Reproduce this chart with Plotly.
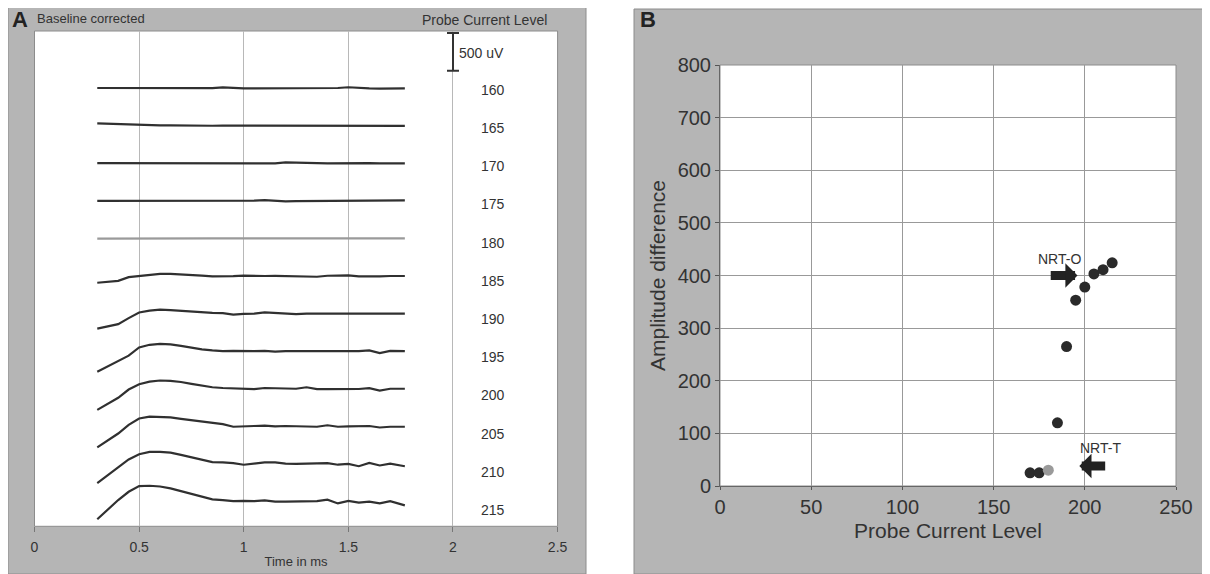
import plotly.graph_objects as go

W, H = 1210, 574
PAGE_OFFSET = 8  # browser body margin shifts the figure by 8 px


def xp(px):
    return (px - PAGE_OFFSET) / W


def yp(py):
    return 1 - (py - PAGE_OFFSET) / H


# ---------------- Panel A data ----------------
times = [0.30, 0.35, 0.40, 0.45, 0.50, 0.55, 0.60, 0.65, 0.70, 0.75,
         0.80, 0.85, 0.90, 0.95, 1.00, 1.05, 1.10, 1.15, 1.20, 1.25,
         1.30, 1.35, 1.40, 1.45, 1.50, 1.55, 1.60, 1.65, 1.70, 1.77]

levels_a = [160, 165, 170, 175, 180, 185, 190, 195, 200, 205, 210, 215]

amp_160 = [0, 0, 0, 0, 0, 0, 0, 0, 0, 3, 0, -3, 8, 0, -5, -5, -5, -5, -5, -8,
           -8, -5, -5, 0, 10, 0, -5, -8, -10, -5]
amp_165 = [30, 25, 15, 8, 2, 0, 2, 3, 0, 0, 0, -2, 0, 0, -5, -3, -3, -2, -2, 0,
           0, 3, 3, 0, -3, -3, -3, -3, -5, -5]
amp_170 = [0, 0, 0, 0, -2, -2, 0, 0, 0, 0, 0, 0, 0, -2, -2, 0, 0, -2, 12, 5,
           0, 0, -2, 0, 0, 8, 0, -3, -3, -3]
amp_175 = [0, 0, 0, 0, 5, 0, -2, -2, 0, -2, -3, 0, 0, 2, 0, 3, 10, 0, -8, -5,
           -5, -3, -3, 0, 0, -3, -2, 0, 3, 5]
amp_180 = [-3, -2, 0, 0, 0, -2, 0, 3, 0, 0, 5, 0, 0, -2, 0, 3, 0, 0, 0, -2,
           0, 0, 3, 0, 0, -2, -2, 3, 0, 0]
amp_185 = [-90, -75, -65, -15, 0, 15, 27, 27, 22, 15, 5, -5, -5, -3, 5, 0, 0, 2, 0, 2,
           -5, -10, 3, 5, 8, -5, -10, -5, 0, 0]
amp_190 = [-200, -170, -140, -60, 15, 40, 53, 45, 35, 30, 20, 10, 5, -15, -5, 0, 15, 5, 0, -8,
           0, 0, 3, 0, 0, 3, 0, 0, 0, 0]
amp_195 = [-275, -205, -140, -60, 50, 85, 97, 90, 70, 45, 25, 10, 0, 5, 0, 0, 5, -5, 0, 0,
           0, 0, 0, -5, 5, 0, 10, -25, 5, 0]
amp_200 = [-280, -200, -120, -10, 60, 95, 110, 105, 90, 65, 45, 20, 10, 5, 0, -5, 10, 5, 0, 0,
           20, -5, -5, -5, -5, -3, 8, -25, 0, 0]
amp_205 = [-280, -190, -95, 20, 105, 130, 130, 120, 100, 80, 65, 45, 30, -5, 5, 5, 10, 0, 5, 5,
           5, -5, 15, -5, 0, 0, 5, -15, -5, -5]
amp_210 = [-255, -150, -45, 60, 130, 160, 160, 150, 120, 90, 65, 25, 20, 10, -10, 0, 20, 20, 5, 0,
           0, 0, 10, -10, 0, -30, 15, -20, 5, -30]
amp_215 = [-235, -110, 20, 130, 205, 210, 200, 175, 140, 100, 60, 30, 20, 5, 10, 5, 15, 0, 0, 0,
           5, 5, 25, -25, 10, -15, 0, -25, 5, -50]

amps_a = [amp_160, amp_165, amp_170, amp_175, amp_180, amp_185,
          amp_190, amp_195, amp_200, amp_205, amp_210, amp_215]

trace_spacing_uv = 500      # vertical offset between successive recordings
scale_bar_uv = 500
time_ticks = [0, 0.5, 1, 1.5, 2, 2.5]
time_tick_labels = ["0", "0.5", "1", "1.5", "2", "2.5"]

# ---------------- Panel B data ----------------
levels_b = [170, 175, 180, 185, 190, 195, 200, 205, 210, 215]
amp_diff = [25, 25, 30, 120, 265, 353, 378, 403, 411, 424]
highlight_level = 180
nrt_o = 196
nrt_t = 197

FONT = "Liberation Sans, Arial, sans-serif"
DARK = "#333333"

fig = go.Figure()

# Panel A traces
for lvl, amp, k in zip(levels_a, amps_a, range(len(levels_a))):
    off = -trace_spacing_uv * k
    col = "#9a9a9a" if lvl == highlight_level else "#303030"
    fig.add_trace(go.Scatter(
        x=times, y=[a + off for a in amp], mode="lines",
        line=dict(color=col, width=2.2), xaxis="x", yaxis="y",
        showlegend=False, hoverinfo="skip"))
    fig.add_annotation(x=2.19, y=-508 * k - 25, xref="x", yref="y", text=str(lvl),
                       showarrow=False, font=dict(size=14, color=DARK, family=FONT))

# scale bar (500 uV)
fig.add_trace(go.Scatter(
    x=[2.0], y=[480], mode="markers", marker=dict(size=1, color="rgba(0,0,0,0)"),
    error_y=dict(type="data", array=[scale_bar_uv / 2], symmetric=True,
                 width=6, thickness=2, color=DARK),
    xaxis="x", yaxis="y", showlegend=False, hoverinfo="skip"))
fig.add_annotation(x=2.02, y=460, xref="x", yref="y", text="500 uV", xanchor="left",
                   showarrow=False, font=dict(size=14, color=DARK, family=FONT))

# Panel B points
fig.add_trace(go.Scatter(
    x=levels_b, y=amp_diff, mode="markers",
    marker=dict(size=11, color=["#9a9a9a" if l == highlight_level else "#2a2a2a" for l in levels_b]),
    xaxis="x2", yaxis="y2", showlegend=False))

# ---------------- frames ----------------
FRAME = "#b5b5b5"
shapes = [
    dict(type="rect", xref="paper", yref="paper", x0=xp(8), x1=xp(586), y0=yp(574), y1=yp(7),
         fillcolor=FRAME, line=dict(color="#8c8c8c", width=1), layer="below"),
    dict(type="rect", xref="paper", yref="paper", x0=xp(634), x1=xp(1206), y0=yp(574), y1=yp(9),
         fillcolor=FRAME, line=dict(color="#8c8c8c", width=1), layer="below"),
    dict(type="rect", xref="x domain", yref="y domain", x0=0, x1=1, y0=0, y1=1,
         fillcolor="white", line=dict(color="#8c8c8c", width=1), layer="below"),
    dict(type="rect", xref="x2 domain", yref="y2 domain", x0=0, x1=1, y0=0, y1=1,
         fillcolor="white", line=dict(color="#8c8c8c", width=1), layer="below"),
]

annotations = list(fig.layout.annotations)
annotations += [
    dict(x=xp(10), y=yp(19.5), xref="paper", yref="paper", text="<b>A</b>",
         xanchor="left", yanchor="middle",
         showarrow=False, font=dict(size=22, color="#222", family=FONT)),
    dict(x=xp(35), y=yp(18.5), xref="paper", yref="paper", text="Baseline corrected",
         xanchor="left", yanchor="middle",
         showarrow=False, font=dict(size=13, color=DARK, family=FONT)),
    dict(x=xp(484), y=yp(19.5), xref="paper", yref="paper", text="Probe Current Level",
         xanchor="center", yanchor="middle",
         showarrow=False, font=dict(size=14, color=DARK, family=FONT)),
    dict(x=xp(638), y=yp(19.5), xref="paper", yref="paper", text="<b>B</b>",
         xanchor="left", yanchor="middle",
         showarrow=False, font=dict(size=22, color="#222", family=FONT)),
    dict(x=186, y=431, xref="x2", yref="y2", text="NRT-O", showarrow=False,
         font=dict(size=14, color=DARK, family=FONT)),
    dict(x=nrt_o, y=400, xref="x2", yref="y2", ax=180.5, ay=400, axref="x2", ayref="y2",
         text="", showarrow=True, arrowhead=1, arrowsize=0.45, arrowwidth=9, arrowcolor="#222"),
    dict(x=208.5, y=72, xref="x2", yref="y2", text="NRT-T", showarrow=False,
         font=dict(size=14, color=DARK, family=FONT)),
    dict(x=nrt_t, y=38, xref="x2", yref="y2", ax=212, ay=38, axref="x2", ayref="y2",
         text="", showarrow=True, arrowhead=1, arrowsize=0.45, arrowwidth=9, arrowcolor="#222"),
]

fig.update_layout(
    width=W, height=H, autosize=False,
    margin=dict(l=0, r=0, t=0, b=0, pad=0, autoexpand=False),
    paper_bgcolor="white", plot_bgcolor="white",
    font=dict(family=FONT, color=DARK),
    shapes=shapes, annotations=annotations,
    xaxis=dict(domain=[xp(34.5), xp(557.6)], range=[0, 2.5], tickvals=time_ticks,
               ticktext=time_tick_labels, showgrid=True, gridcolor="#b8b8b8", gridwidth=1,
               zeroline=False, showline=False, ticks="outside", ticklen=5, tickcolor="#777",
               tickfont=dict(size=14, color=DARK), ticklabelstandoff=3, automargin=False,
               title=dict(text="Time in ms", font=dict(size=13, color=DARK), standoff=2),
               anchor="y"),
    yaxis=dict(domain=[yp(526.3), yp(31)], range=[-5829, 758], visible=False,
               automargin=False, anchor="x"),
    xaxis2=dict(domain=[xp(720), xp(1176)], range=[0, 250], tickvals=[0, 50, 100, 150, 200, 250],
                showgrid=True, gridcolor="#999999", gridwidth=1, zeroline=False,
                showline=True, linecolor="#666", linewidth=1,
                ticks="outside", ticklen=3, tickcolor="#555", automargin=False,
                tickfont=dict(size=20, color=DARK), ticklabelstandoff=0,
                title=dict(text="Probe Current Level", font=dict(size=21, color=DARK), standoff=6),
                anchor="y2"),
    yaxis2=dict(domain=[yp(486), yp(65)], range=[0, 800],
                tickvals=[0, 100, 200, 300, 400, 500, 600, 700, 800],
                showgrid=True, gridcolor="#999999", gridwidth=1, zeroline=False,
                showline=True, linecolor="#666", linewidth=1, automargin=False,
                ticks="outside", ticklen=4, tickcolor="#555",
                tickfont=dict(size=20, color=DARK), ticklabelstandoff=0,
                title=dict(text="Amplitude difference", font=dict(size=21, color=DARK), standoff=6),
                anchor="x2"),
)

fig.write_html("out.html")
